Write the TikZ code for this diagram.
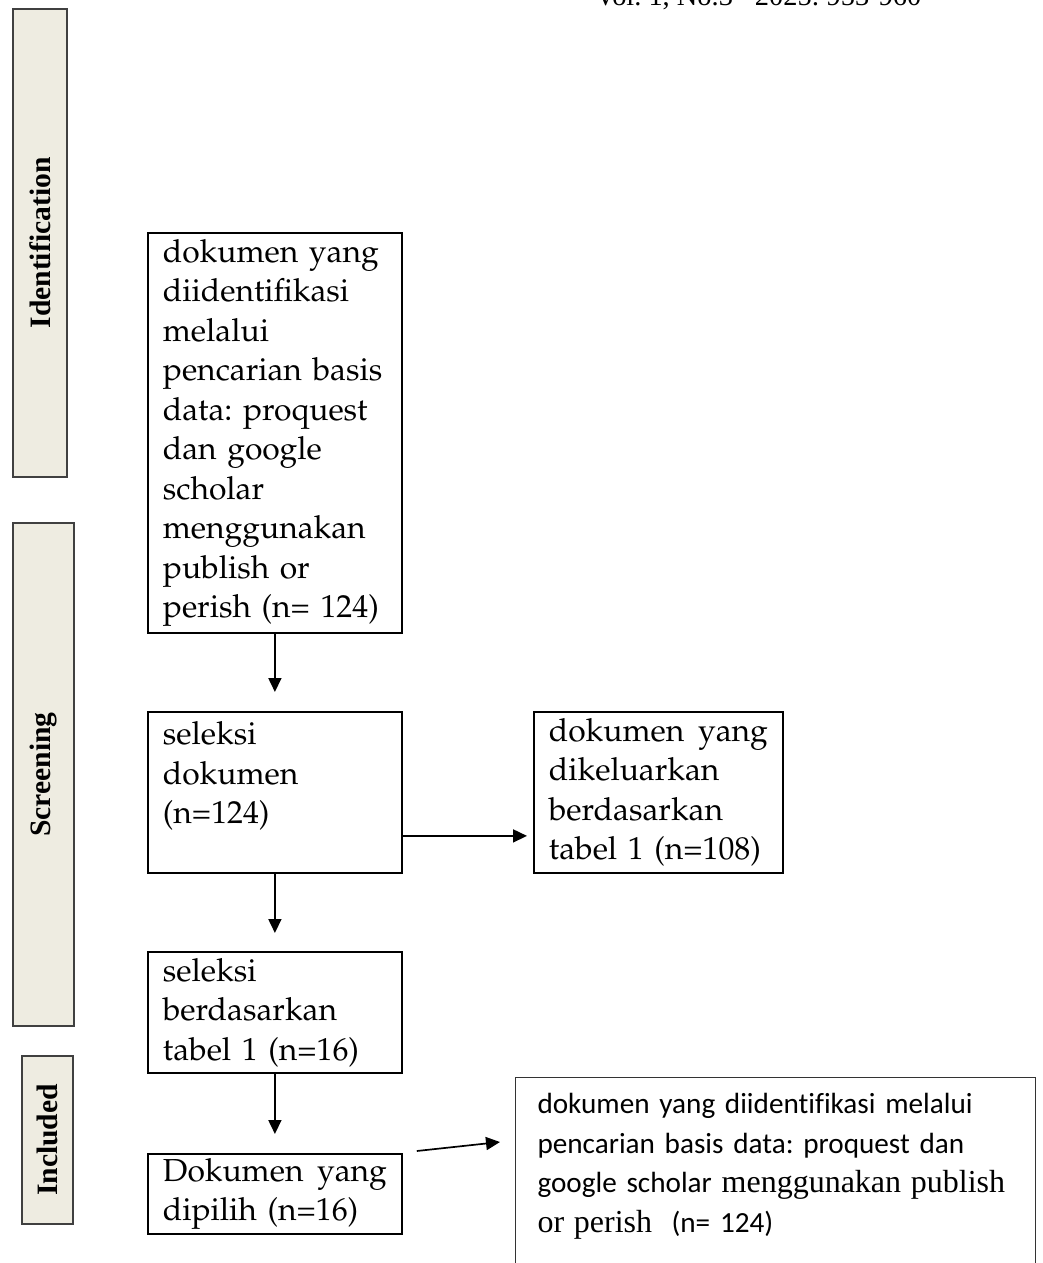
\documentclass[tikz,border=0pt]{standalone}
\usepackage[T1]{fontenc}
\usepackage{fontspec}
\usetikzlibrary{arrows.meta}
\newfontfamily\carlito{Carlito}[Ligatures=CommonOff]
\newfontfamily\libserif{Liberation Serif}
\newcommand\palfont{\fontencoding{T1}\fontfamily{ppl}\selectfont}
\definecolor{phasefill}{HTML}{EEECE1}
\frenchspacing

\tikzset{
  stage/.style={draw, line width=0.9pt, anchor=north west, align=left, text width=112pt,
    inner xsep=7.5pt, inner ysep=0pt, font=\palfont\fontsize{15.9}{19.75}\selectfont},
  phase/.style={draw=black!75, line width=0.7pt, fill=phasefill, rotate=90,
    font=\libserif\bfseries\fontsize{14.8}{17}\selectfont},
  flow/.style={-{Triangle[length=7pt,width=6.5pt]}, line width=0.85pt},
}

\begin{document}
\begin{tikzpicture}[x=0.5pt,y=-0.5pt]
\useasboundingbox (0,0) rectangle (1043,1263);
% running head, cut by the page top
\node[anchor=base west,inner sep=0pt,font=\libserif\fontsize{14.2}{17}\selectfont] (hdr) at (595,6) {Vol. 1, No.3\hspace{11pt}2025: 953-960};

% phases
\node[phase,minimum width=234pt,minimum height=27pt] (idf) at (40,243) {Identification};
\node[phase,minimum width=251.5pt,minimum height=30.5pt] (scr) at (43.5,774.5) {Screening};
\node[phase,minimum width=84pt,minimum height=25.5pt] (inc) at (47.5,1140) {Included};

% boxes
\node[stage,minimum height=200pt] (ident) at (147,232) {dokumen yang\\diidentifikasi\\melalui\\pencarian basis\\data: proquest\\dan google\\scholar\\menggunakan\\publish or\\perish (n= 124)};
\node[stage,minimum height=80.5pt] (sel) at (147,711) {seleksi\\dokumen\\(n=124)\\\mbox{}};
\node[stage,minimum height=60.5pt] (tbl) at (147,951) {seleksi\\berdasarkan\\tabel 1 (n=16)};
\node[stage,minimum height=40pt] (pick) at (147,1153) {Dokumen\hfill yang\\dipilih (n=16)};
\node[stage,text width=109.5pt,minimum height=80.5pt] (excl) at (533,711) {dokumen\hfill yang\\dikeluarkan\\berdasarkan\\tabel 1 (n=108)};
\node[stage,draw=black!80,line width=0.5pt,text width=238pt,inner xsep=11pt,inner ysep=8pt,
  font=\carlito\fontsize{14.6}{19.75}\selectfont] (incl) at (515,1077)
  {dokumen yang diidentifikasi melalui\\pencarian basis data: proquest dan\\google scholar {\libserif\fontsize{16}{19.75}\selectfont menggunakan publish}\\{\libserif\fontsize{16}{19.75}\selectfont or perish}~~(n= 124)\\\mbox{}\\\mbox{}};

% arrows
\draw[flow,shorten >=9.5pt] (ident) -- (sel);
\draw[flow,shorten >=9pt] (sel) -- (tbl);
\draw[flow,shorten >=9.5pt] (tbl) -- (pick);
\draw[flow] ([yshift=-21.75pt]sel.east) -- ([xshift=-3pt,yshift=-21.75pt]excl.west);
\draw[flow] ([xshift=7pt,yshift=1pt]pick.north east) -- ([xshift=-7.5pt,yshift=-32.5pt]incl.north west);
\end{tikzpicture}
\end{document}
